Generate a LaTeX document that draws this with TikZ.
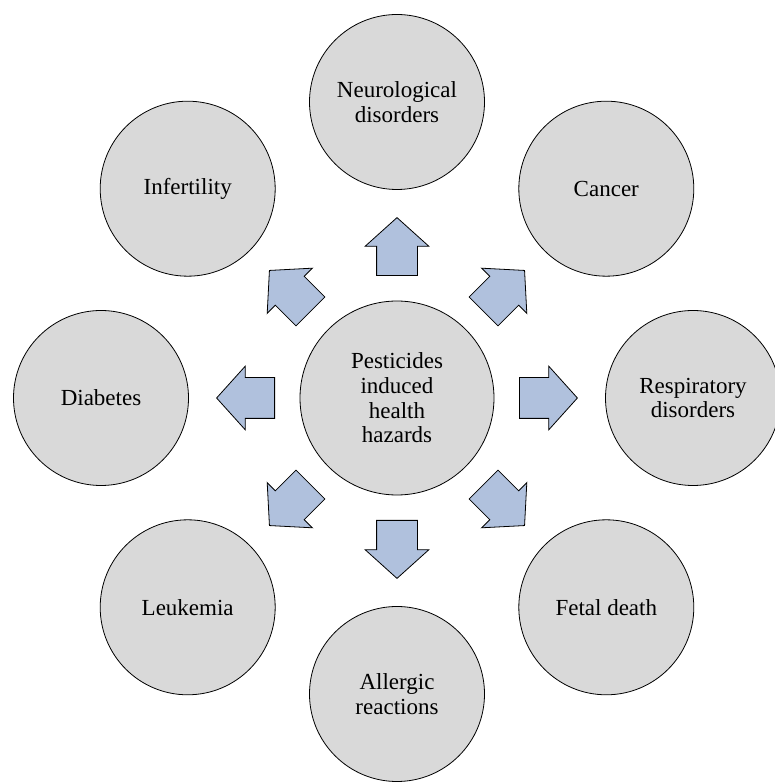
\documentclass[tikz,border=0pt]{standalone}
\usepackage{fontspec}
\setmainfont{Liberation Serif}
\usetikzlibrary{shapes.arrows}
\definecolor{diskgray}{HTML}{D9D9D9}
\definecolor{arrowblue}{HTML}{B0C1DD}
\tikzset{
hazard/.style={
	  draw, circle, fill=diskgray, line width=0.8pt,
	    minimum size=175pt, inner sep=0pt, align=center,
    font=\fontsize{23}{24.7}\selectfont},
blockarrow/.style={
	  draw, single arrow, fill=arrowblue, line width=0.8pt, anchor=tail,
	    minimum height=58pt, inner xsep=0pt, inner ysep=20pt,
    single arrow head extend=11.5pt, single arrow tip angle=96}
}

\begin{document}
\begin{tikzpicture}[x=1pt, y=1pt]
	\useasboundingbox (0,0) rectangle (775,782);
	\node[hazard, minimum size=194pt] (hub) at (397,384)
		{Pesticides\\induced\\health\\hazards};
	\node[hazard] (neuro) at ([shift={(90:296)}]hub) {Neurological\\disorders};
	\node[hazard] (cancer) at ([shift={(45:296)}]hub) {Cancer};
	\node[hazard] (resp) at ([shift={(0:296)}]hub) {Respiratory\\disorders};
	\node[hazard] (fetal) at ([shift={(-45:296)}]hub) {Fetal death};
	\node[hazard] (allergy) at ([shift={(-90:296)}]hub) {Allergic\\reactions};
	\node[hazard] (leuk) at ([shift={(-135:296)}]hub) {Leukemia};
	\node[hazard] (diab) at ([shift={(180:296)}]hub) {Diabetes};
	\node[hazard] (infert) at ([shift={(135:296)}]hub) {Infertility};
	% block arrows from the hub
	\foreach \ang in {0,45,...,315}
		\node[blockarrow, rotate=\ang] (arr\ang) at ([shift={(\ang:122)}]hub) {};
\end{tikzpicture}
\end{document}
